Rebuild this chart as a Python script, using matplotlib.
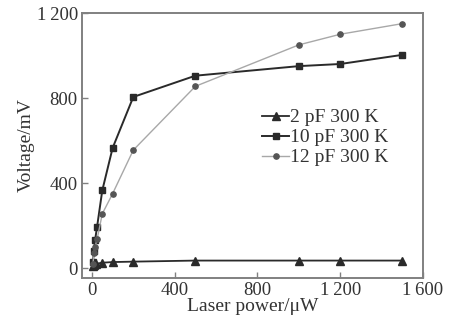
import matplotlib
matplotlib.use("Agg")
import matplotlib.pyplot as plt

# data
power_2pf = [5, 10, 20, 50, 100, 200, 500, 1000, 1200, 1500]
volt_2pf = [10, 15, 20, 25, 28, 30, 35, 35, 35, 35]

power_10pf = [5, 10, 15, 25, 50, 100, 200, 500, 1000, 1200, 1500]
volt_10pf = [30, 80, 130, 195, 365, 565, 805, 905, 950, 960, 1003]

power_12pf = [5, 10, 15, 25, 50, 100, 200, 500, 1000, 1200, 1500]
volt_12pf = [20, 70, 100, 135, 255, 350, 555, 855, 1050, 1100, 1150]

x_ticks = [0, 400, 800, 1200, 1600]
x_labels = ["0", "400", "800", "1\u2009200", "1\u2009600"]
y_ticks = [0, 400, 800, 1200]
y_labels = ["0", "400", "800", "1\u2009200"]

plt.rcParams["font.family"] = ["Liberation Serif", "DejaVu Serif"]

fig = plt.figure(figsize=(4.49, 3.29), dpi=100)
ax = fig.add_axes([82 / 449, 1 - 278 / 329, (423 - 82) / 449, (278 - 13) / 329])

ax.plot(power_2pf, volt_2pf, "-^", color="#2a2a2a", lw=1.3, ms=5.5, label="2 pF 300 K")
ax.plot(power_10pf, volt_10pf, "-s", color="#2a2a2a", lw=1.4, ms=4, label="10 pF 300 K")
ax.plot(power_12pf, volt_12pf, "-o", color="#a8a8a8", mfc="#555555", mec="#555555",
        lw=1.0, ms=3.8, label="12 pF 300 K")

ax.set_xlim(-48, 1600)
ax.set_ylim(-47, 1200)
ax.set_xticks(x_ticks)
ax.set_xticklabels(x_labels)
ax.set_yticks(y_ticks)
ax.set_yticklabels(y_labels)
ax.tick_params(direction="in", length=4, width=1, color="#808080", labelsize=13.5,
               pad=3, labelcolor="#333333")

for s in ax.spines.values():
    s.set_color("#808080")
    s.set_linewidth(1.4)

ax.set_xlabel("Laser power/\u03bcW", fontsize=14, labelpad=-1, color="#333333")
ax.set_ylabel("Voltage/mV", fontsize=14, labelpad=1, color="#333333")

leg = ax.legend(loc="upper left", bbox_to_anchor=(0.5, 0.675), frameon=False, fontsize=14,
                handlelength=1.4, handletextpad=0.05, borderpad=0, labelspacing=0.12)
for t in leg.get_texts():
    t.set_color("#333333")

fig.savefig("out.png", dpi=100)
